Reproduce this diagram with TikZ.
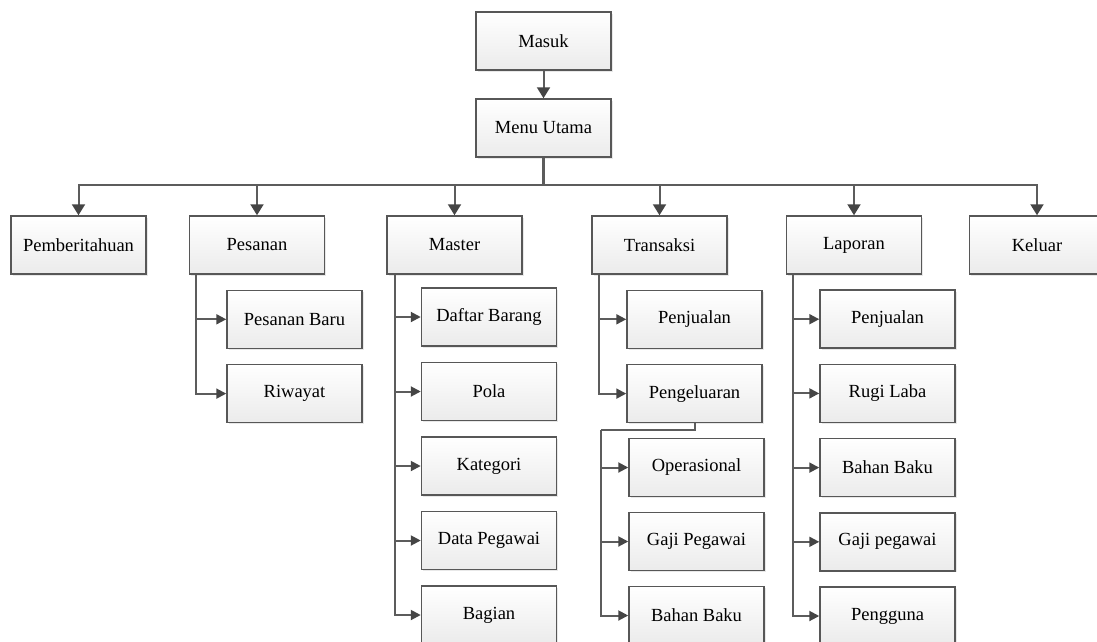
\documentclass[tikz,border=0pt]{standalone}
\usepackage{fontspec}
\setmainfont{Liberation Serif}
\usetikzlibrary{arrows.meta,shadows}
\definecolor{boxline}{HTML}{575757}
\definecolor{boxfill}{HTML}{EBEBEB}
\definecolor{wire}{HTML}{5C5C5C}
\definecolor{tipink}{HTML}{454545}

\tikzset{
  menubox/.style={draw=boxline,line width=1.5pt,top color=white,bottom color=boxfill,
    minimum width=135pt,minimum height=58pt,inner sep=0pt,
    font=\fontsize{18.5}{20}\selectfont,
    drop shadow={opacity=0.18,shadow xshift=1.5pt,shadow yshift=-1.5pt}},
  downarrow/.style={draw=wire,line width=2pt,-{Triangle[width=13pt,length=11pt,color=tipink]}},
  subarrow/.style={draw=wire,line width=2pt,-{Triangle[width=10pt,length=10pt,color=tipink]}}
}

\begin{document}
\begin{tikzpicture}[x=1pt,y=-1pt]
        \useasboundingbox (0,0) rectangle (1097,641);
        \node[menubox] (masuk) at (543.5,41) {Masuk};
        \node[menubox] (mainmenu) at (543.5,128) {Menu Utama};
        \draw[downarrow] (masuk) -- (mainmenu);
        \draw[draw=wire,line width=3.5pt] (mainmenu.south) -- ++(0,27) coordinate (bus);
        % top row
        \foreach \n/\x/\t in {notif/78.5/Pemberitahuan,pesanan/257/Pesanan,master/454.5/Master,
          transaksi/659.5/Transaksi,laporan/854/Laporan,keluar/1037/Keluar}{
          \node[menubox] (\n) at (\x,245) {\t};
          \draw[downarrow] (bus) -| (\n);}
        % pesanan
        \foreach \n/\t [count=\k] in {pbaru/Pesanan Baru,riwayat/Riwayat}{
          \node[menubox] (\n) at (294.5,245+74.3*\k) {\t};
          \draw[subarrow] (pesanan.south west) ++(7,0) |- (\n);}
        % master
        \foreach \n/\t [count=\k] in {dbarang/Daftar Barang,pola/Pola,kategori/Kategori,
          dpegawai/Data Pegawai,bagian/Bagian}{
          \node[menubox] (\n) at (489,242.5+74.5*\k) {\t};
          \draw[subarrow] (master.south west) ++(9,0) |- (\n);}
        % transaksi
        \foreach \n/\t [count=\k] in {tjual/Penjualan,keluaran/Pengeluaran}{
          \node[menubox] (\n) at (694.5,245+74.3*\k) {\t};
          \draw[subarrow] (transaksi.south west) ++(8,0) |- (\n);}
        \coordinate (pgjoint) at (601,430);
        \draw[draw=wire,line width=2pt] (keluaran.south) |- (pgjoint);
        \foreach \n/\t [count=\k] in {operasional/Operasional,gaji/Gaji Pegawai,bahan/Bahan Baku}{
          \node[menubox] (\n) at (696.5,393.5+74*\k) {\t};
          \draw[subarrow] (pgjoint) |- (\n);}
        % laporan
        \foreach \n/\t [count=\k] in {ljual/Penjualan,rugilaba/Rugi Laba,lbahan/Bahan Baku,
          lgaji/Gaji pegawai,pengguna/Pengguna}{
          \node[menubox] (\n) at (887.5,245+74.2*\k) {\t};
          \draw[subarrow] (laporan.south west) ++(7,0) |- (\n);}
\end{tikzpicture}
\end{document}
